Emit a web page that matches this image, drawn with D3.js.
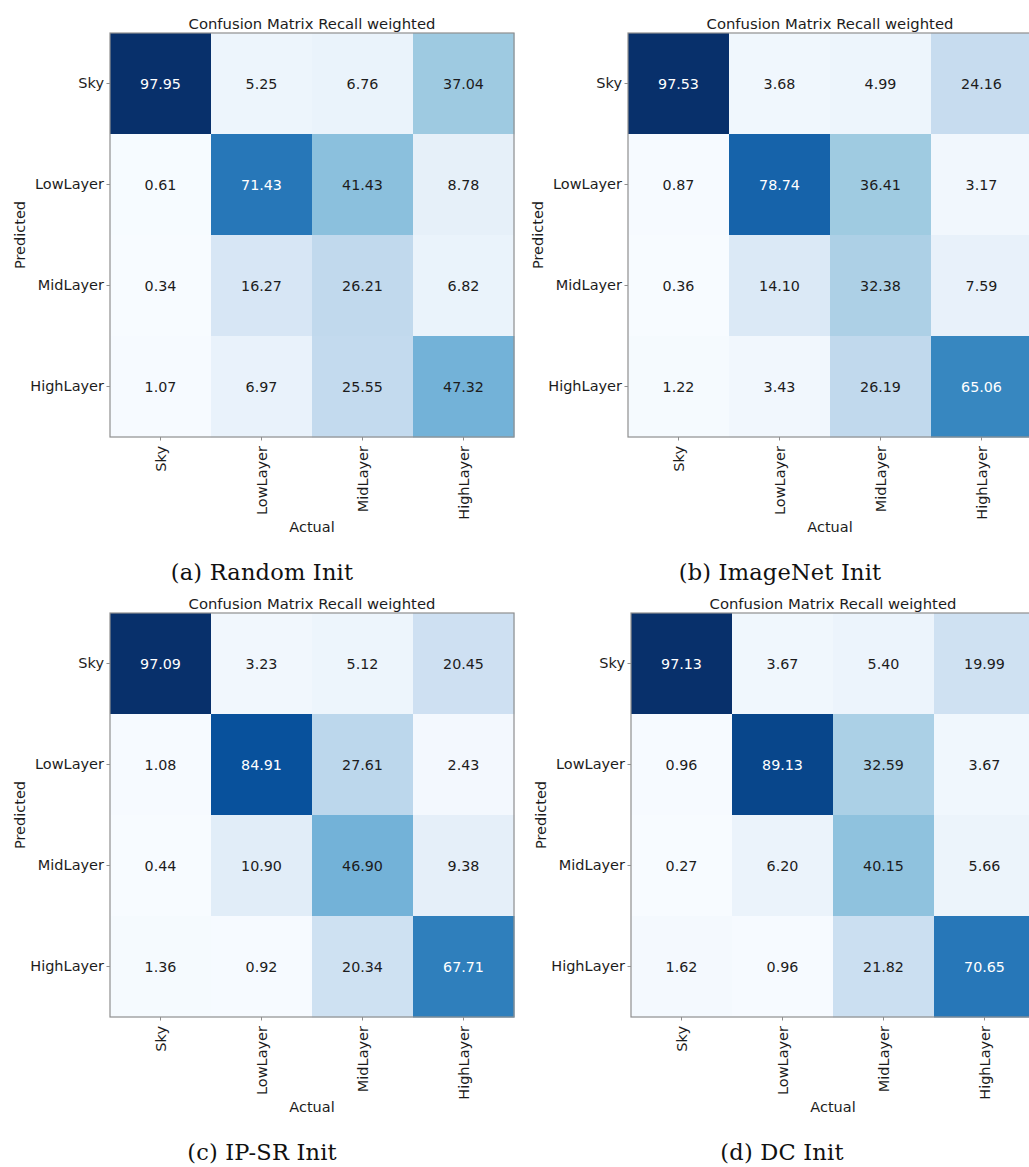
<!DOCTYPE html>
<html>
<head>
<meta charset="utf-8">
<script src="https://cdn.jsdelivr.net/npm/d3@7/dist/d3.min.js"></script>
<style>
  html, body { margin: 0; padding: 0; background: #fff; }
  svg { display: block; }
  .tick text { font-family: "DejaVu Sans", sans-serif; }
</style>
</head>
<body>
<svg id="fig" width="1029" height="1167"></svg>
<script>
// Class labels (rows = predicted, columns = actual)
const classes = ["Sky", "LowLayer", "MidLayer", "HighLayer"];

// Recall-weighted confusion matrices (percent), one per initialisation
const randomInit = [
  [97.95, 5.25, 6.76, 37.04],
  [0.61, 71.43, 41.43, 8.78],
  [0.34, 16.27, 26.21, 6.82],
  [1.07, 6.97, 25.55, 47.32]
];
const imagenetInit = [
  [97.53, 3.68, 4.99, 24.16],
  [0.87, 78.74, 36.41, 3.17],
  [0.36, 14.10, 32.38, 7.59],
  [1.22, 3.43, 26.19, 65.06]
];
const ipsrInit = [
  [97.09, 3.23, 5.12, 20.45],
  [1.08, 84.91, 27.61, 2.43],
  [0.44, 10.90, 46.90, 9.38],
  [1.36, 0.92, 20.34, 67.71]
];
const dcInit = [
  [97.13, 3.67, 5.40, 19.99],
  [0.96, 89.13, 32.59, 3.67],
  [0.27, 6.20, 40.15, 5.66],
  [1.62, 0.96, 21.82, 70.65]
];

const captions = ["(a) Random Init", "(b) ImageNet Init", "(c) IP-SR Init", "(d) DC Init"];
const matrices = [randomInit, imagenetInit, ipsrInit, dcInit];

// Panel placement: heatmap origin and size, caption centre
const panels = [
  { x: 110, y: 33, size: 404, capX: 262 },
  { x: 628, y: 33, size: 404, capX: 780 },
  { x: 110, y: 613, size: 404, capX: 262 },
  { x: 631, y: 613, size: 404, capX: 782 }
];

// Sequential "Blues" palette, linearly interpolated between anchor colours
const bluesStops = ["#f7fbff", "#deebf7", "#c6dbef", "#9ecae1", "#6baed6",
                    "#4292c6", "#2171b5", "#08519c", "#08306b"];

const svg = d3.select("#fig");
const textColor = "#1c1c1c";
const spineColor = "#8f8f8f";
const sans = "'DejaVu Sans', sans-serif";

matrices.forEach((m, i) => {
  const p = panels[i];
  const g = svg.append("g").attr("transform", `translate(${p.x},${p.y})`);

  const x = d3.scaleBand().domain(classes).range([0, p.size]);
  const y = d3.scaleBand().domain(classes).range([0, p.size]);

  const flat = m.flat();
  const vmin = d3.min(flat), vmax = d3.max(flat);
  const color = d3.scaleLinear()
    .domain(bluesStops.map((_, k) => vmin + (vmax - vmin) * k / (bluesStops.length - 1)))
    .range(bluesStops)
    .interpolate(d3.interpolateRgb);
  const thresh = vmax / 2;

  const cells = [];
  m.forEach((row, r) => row.forEach((v, c) => cells.push({ r: classes[r], c: classes[c], v })));

  g.selectAll("rect.cell").data(cells).join("rect")
    .attr("class", "cell")
    .attr("x", d => x(d.c))
    .attr("y", d => y(d.r))
    .attr("width", x.bandwidth() + 0.5)
    .attr("height", y.bandwidth() + 0.5)
    .attr("fill", d => color(d.v));

  g.selectAll("text.val").data(cells).join("text")
    .attr("class", "val")
    .attr("x", d => x(d.c) + x.bandwidth() / 2)
    .attr("y", d => y(d.r) + y.bandwidth() / 2)
    .attr("dy", "0.36em")
    .attr("text-anchor", "middle")
    .attr("font-family", sans)
    .attr("font-size", 14.3)
    .attr("fill", d => d.v > thresh ? "#ffffff" : textColor)
    .text(d => d.v.toFixed(2));

  // frame
  g.append("rect")
    .attr("x", 0).attr("y", 0)
    .attr("width", p.size).attr("height", p.size)
    .attr("fill", "none")
    .attr("stroke", spineColor)
    .attr("stroke-width", 1.2);

  // y axis
  const ya = g.append("g").call(d3.axisLeft(y).tickSize(3.5).tickPadding(2.5));
  ya.select(".domain").remove();
  ya.selectAll(".tick line").attr("stroke", spineColor);
  ya.selectAll(".tick text").attr("font-size", 14.5).attr("fill", textColor);

  // x axis with vertical labels
  const xa = g.append("g").attr("transform", `translate(0,${p.size})`)
    .call(d3.axisBottom(x).tickSize(3.5).tickPadding(0));
  xa.select(".domain").remove();
  xa.selectAll(".tick line").attr("stroke", spineColor);
  xa.selectAll(".tick text")
    .attr("font-size", 14.5)
    .attr("fill", textColor)
    .attr("text-anchor", "end")
    .attr("transform", "translate(0,9) rotate(-90)")
    .attr("x", 0).attr("y", 0)
    .attr("dy", "0.35em");

  // titles
  g.append("text")
    .attr("x", p.size / 2).attr("y", -4.5)
    .attr("text-anchor", "middle")
    .attr("font-family", sans).attr("font-size", 14.8)
    .attr("fill", textColor)
    .text("Confusion Matrix Recall weighted");

  g.append("text")
    .attr("x", p.size / 2).attr("y", 499)
    .attr("text-anchor", "middle")
    .attr("font-family", sans).attr("font-size", 14.5)
    .attr("fill", textColor)
    .text("Actual");

  g.append("text")
    .attr("transform", `translate(-85.5,${p.size / 2}) rotate(-90)`)
    .attr("text-anchor", "middle")
    .attr("font-family", sans).attr("font-size", 14.5)
    .attr("fill", textColor)
    .text("Predicted");

  // sub-figure caption
  svg.append("text")
    .attr("x", p.capX).attr("y", p.y + 547)
    .attr("text-anchor", "middle")
    .attr("font-family", "'DejaVu Serif', serif")
    .attr("font-size", 22.5)
    .attr("letter-spacing", 0.2)
    .attr("fill", "#111")
    .text(captions[i]);
});
</script>
</body>
</html>
